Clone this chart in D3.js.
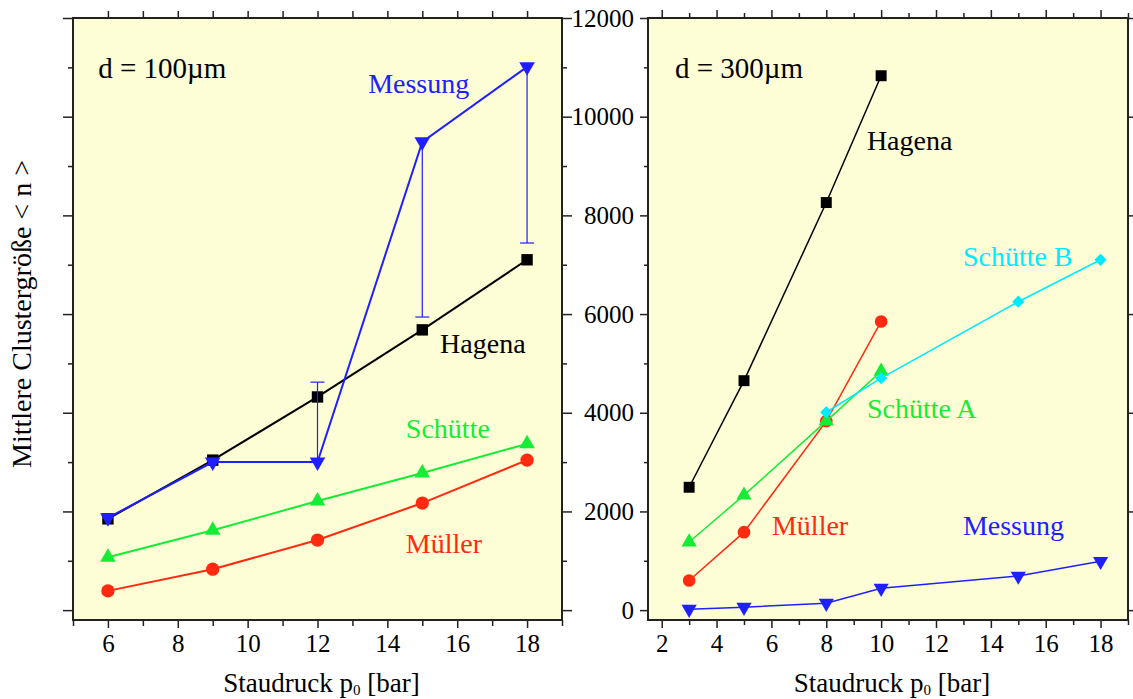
<!DOCTYPE html>
<html>
<head>
<meta charset="utf-8">
<script src="https://cdn.jsdelivr.net/npm/d3@7"></script>
<style>
body { margin: 0; background: #fff; }
svg text { font-family: "Liberation Serif", "Times New Roman", serif; }
</style>
</head>
<body>
<div id="chart"></div>
<script>
// d = 100 um panel
var pLeft = [6, 9, 12, 15, 18];
var hagenaL = [1850, 3040, 4320, 5680, 7100];
var schuetteL = [1070, 1620, 2210, 2780, 3370];
var muellerL = [390, 830, 1420, 2170, 3040];
var messungL = [1870, 3000, 3000, 9490, 11010];
var messungErrLo = [null, null, null, 5940, 7440];
var messungErrHi = [null, null, 4620, null, null];

// d = 300 um panel
var pHag = [3, 5, 8, 10];
var hagenaR = [2490, 4650, 8260, 10830];
var muellerR = [600, 1580, 3830, 5850];
var schuetteA = [1380, 2330, 3830, 4840];
var pSchB = [8, 10, 15, 18];
var schuetteB = [4010, 4700, 6250, 7100];
var pMess = [3, 5, 8, 10, 15, 18];
var messungR = [20, 60, 140, 445, 690, 990];

var yTicks = [0, 2000, 4000, 6000, 8000, 10000, 12000];
var xTicksL = [6, 8, 10, 12, 14, 16, 18];
var xTicksR = [2, 4, 6, 8, 10, 12, 14, 16, 18];

var cBlue = "#2020ff", cRed = "#ff2a10", cGreen = "#14ec36", cCyan = "#00eaff", cBlack = "#000";
var bg = "#fdfdd6";

var svg = d3.select("#chart").append("svg")
    .attr("width", 1133)
    .attr("height", 699);

var y = d3.scaleLinear().domain([-200, 12000]).range([620, 18]);

var xL = d3.scaleLinear().domain([5, 19]).range([73, 562]);
var xR = d3.scaleLinear().domain([1.5, 19]).range([648, 1128]);

function frame(x) {
    var r = x.range();
    svg.append("rect")
        .attr("x", r[0]).attr("y", 18)
        .attr("width", r[1] - r[0]).attr("height", 602)
        .attr("fill", bg);
}
frame(xL);
frame(xR);

var minorY = d3.range(1000, 12000, 2000);

function axisG(gen, tx, ty) {
    var g = svg.append("g")
        .attr("transform", "translate(" + tx + "," + ty + ")")
        .call(gen);
    g.select(".domain").remove();
    g.selectAll("line").attr("stroke", "#222").attr("stroke-width", 1.5);
    g.selectAll("text")
        .attr("font-size", 25)
        .attr("font-family", "Liberation Serif")
        .attr("fill", "#000");
    return g;
}

// left panel axes
axisG(d3.axisBottom(xL).tickValues(xTicksL).tickSize(8).tickPadding(6), 0, 620);
axisG(d3.axisBottom(xL).tickValues(d3.range(5, 20, 2)).tickSize(6).tickFormat(""), 0, 620);
axisG(d3.axisBottom(xL).tickValues(d3.range(6, 19, 1)).tickSize(-7).tickFormat(""), 0, 18);
axisG(d3.axisLeft(y).tickValues(yTicks).tickSize(10).tickFormat(""), 73, 0);
axisG(d3.axisLeft(y).tickValues(minorY).tickSize(5).tickFormat(""), 73, 0);
axisG(d3.axisRight(y).tickValues(yTicks).tickSize(10).tickFormat(""), 562, 0);
axisG(d3.axisRight(y).tickValues(minorY).tickSize(5).tickFormat(""), 562, 0);

// right panel axes
axisG(d3.axisBottom(xR).tickValues(xTicksR).tickSize(8).tickPadding(6), 0, 620);
axisG(d3.axisBottom(xR).tickValues(d3.range(3, 20, 2)).tickSize(5).tickFormat(""), 0, 620);
axisG(d3.axisBottom(xR).tickValues(xTicksR).tickSize(-8).tickFormat(""), 0, 18);
axisG(d3.axisBottom(xR).tickValues(d3.range(3, 20, 2)).tickSize(-5).tickFormat(""), 0, 18);
axisG(d3.axisLeft(y).tickValues(yTicks).tickSize(8).tickPadding(6).tickFormat(d3.format("d")), 648, 0);
axisG(d3.axisLeft(y).tickValues(minorY).tickSize(4).tickFormat(""), 648, 0);
axisG(d3.axisLeft(y).tickValues(yTicks).tickSize(-5).tickFormat(""), 1128, 0);

// frames on top of background, under the data
[xL, xR].forEach(function(x) {
    var r = x.range();
    svg.append("rect")
        .attr("x", r[0]).attr("y", 18)
        .attr("width", r[1] - r[0]).attr("height", 602)
        .attr("fill", "none")
        .attr("stroke", "#222")
        .attr("stroke-width", 2);
});

function series(x, xs, ys, color, sym, size, rot, lw) {
    var pts = xs.map(function(d, i) { return [x(d), y(ys[i])]; });
    svg.append("path")
        .attr("d", d3.line()(pts))
        .attr("fill", "none")
        .attr("stroke", color)
        .attr("stroke-width", lw);
    svg.append("g").selectAll("path")
        .data(pts)
        .join("path")
        .attr("d", d3.symbol().type(sym).size(size))
        .attr("transform", function(d) { return "translate(" + d[0] + "," + d[1] + ") rotate(" + rot + ")"; })
        .attr("fill", color);
}

// error bars of the 100 um measurement
function errBars(x, xs, ys, lo, hi, color) {
    xs.forEach(function(d, i) {
        var ends = [];
        if (lo[i] != null) ends.push(lo[i]);
        if (hi[i] != null) ends.push(hi[i]);
        ends.forEach(function(e) {
            svg.append("line")
                .attr("x1", x(d)).attr("x2", x(d))
                .attr("y1", y(ys[i])).attr("y2", y(e))
                .attr("stroke", color).attr("stroke-width", 1.2);
            svg.append("line")
                .attr("x1", x(d) - 7).attr("x2", x(d) + 7)
                .attr("y1", y(e)).attr("y2", y(e))
                .attr("stroke", color).attr("stroke-width", 1.2);
        });
    });
}

series(xL, pLeft, muellerL, cRed, d3.symbolCircle, 140, 0, 2);
series(xL, pLeft, schuetteL, cGreen, d3.symbolTriangle, 105, 0, 2);
series(xL, pLeft, hagenaL, cBlack, d3.symbolSquare, 130, 0, 2);
errBars(xL, pLeft, messungL, messungErrLo, messungErrHi, cBlue);
series(xL, pLeft, messungL, cBlue, d3.symbolTriangle, 105, 180, 2);

series(xR, pHag, hagenaR, cBlack, d3.symbolSquare, 120, 0, 1.5);
series(xR, pHag, muellerR, cRed, d3.symbolCircle, 125, 0, 1.5);
series(xR, pHag, schuetteA, cGreen, d3.symbolTriangle, 100, 0, 1.5);
series(xR, pSchB, schuetteB, cCyan, d3.symbolSquare, 75, 45, 1.5);
series(xR, pMess, messungR, cBlue, d3.symbolTriangle, 100, 180, 1.5);

function label(x, px, py, txt, color, size) {
    svg.append("text")
        .attr("x", x(px)).attr("y", y(py))
        .attr("font-size", size || 28)
        .attr("fill", color)
        .text(txt);
}

label(xL, 5.72, 10785, "d = 100µm", cBlack, 29);
label(xL, 13.45, 10480, "Messung", cBlue);
label(xL, 15.51, 5211, "Hagena", cBlack);
label(xL, 14.53, 3489, "Schütte", cGreen);
label(xL, 14.53, 1158, "Müller", cRed);

label(xR, 2.48, 10785, "d = 300µm", cBlack, 29);
label(xR, 9.48, 9326, "Hagena", cBlack);
label(xR, 12.98, 6975, "Schütte B", cCyan);
label(xR, 9.48, 3894, "Schütte A", cGreen);
label(xR, 6.02, 1523, "Müller", cRed);
label(xR, 12.98, 1523, "Messung", cBlue);

// axis titles
svg.append("text")
    .attr("transform", "translate(31,314) rotate(-90)")
    .attr("text-anchor", "middle")
    .attr("font-size", 28)
    .text("Mittlere Clustergröße < n >");

[xL, xR].forEach(function(x) {
    var r = x.range();
    var t = svg.append("text")
        .attr("x", (r[0] + r[1]) / 2 + 4)
        .attr("y", 692)
        .attr("text-anchor", "middle")
        .attr("font-size", 27);
    t.append("tspan").text("Staudruck p");
    t.append("tspan").attr("font-size", 15).attr("dy", 3).text("0");
    t.append("tspan").attr("dy", -3).text(" [bar]");
});
</script>
</body>
</html>
